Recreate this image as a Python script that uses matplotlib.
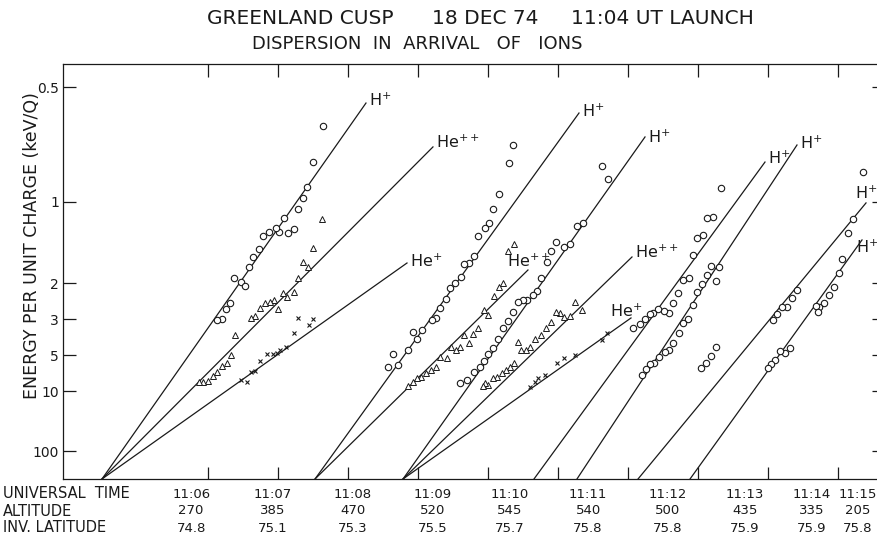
import matplotlib.pyplot as plt
import numpy as np
from matplotlib.transforms import blended_transform_factory

# time in minutes after 11:00 UT, energy per unit charge in keV/Q
# ---- burst A ----
a_h_t = [7.643, 7.50, 7.414, 7.357, 7.286, 7.086, 7.229, 7.143, 7.014, 6.971, 6.871,
         6.786, 6.729, 6.643, 6.586, 6.371, 6.471, 6.529, 6.314, 6.257, 6.20, 6.129]
a_h_e = [0.616, 0.764, 0.900, 0.972, 1.053, 1.126, 1.228, 1.268, 1.258, 1.218, 1.258,
         1.299, 1.450, 1.557, 1.707, 1.899, 1.977, 2.060, 2.477, 2.655, 2.997, 3.035]
a_he2_t = [7.629, 7.50, 7.357, 7.429, 7.286, 7.229, 7.129, 7.071, 7.0, 6.943, 6.886, 6.814,
           6.743, 6.671, 6.614, 6.386, 6.329, 6.271, 6.20, 6.129, 6.071, 6.0, 5.929, 5.871]
a_he2_e = [1.135, 1.438, 1.629, 1.707, 1.899, 2.194, 2.316, 2.218, 2.655, 2.395, 2.449, 2.477,
           2.624, 2.888, 2.960, 3.700, 4.990, 5.702, 6.009, 6.702, 7.232, 7.989, 8.155, 8.155]
a_he1_t = [7.286, 7.50, 7.443, 7.229, 7.114, 7.029, 6.986, 6.929, 6.843, 6.743, 6.671,
           6.614, 6.471, 6.557]
a_he1_e = [2.960, 2.997, 3.235, 3.600, 4.404, 4.611, 4.833, 4.911, 4.911, 5.511, 6.578,
           6.702, 7.829, 8.155]

# ---- burst B ----
b_h_t = [10.357, 10.30, 10.157, 10.071, 10.014, 9.957, 9.857, 9.80, 9.729, 9.657, 9.614, 9.529,
         9.457, 9.40, 9.314, 9.257, 9.20, 9.057, 8.929, 8.986, 8.857, 8.643, 8.714, 8.571]
b_h_e = [0.688, 0.768, 0.945, 1.053, 1.171, 1.218, 1.299, 1.543, 1.645, 1.660, 1.880, 1.997,
         2.103, 2.368, 2.624, 2.960, 3.035, 3.456, 3.551, 3.915, 4.611, 4.911, 5.904, 6.117]
b_he2_t = [10.371, 10.286, 10.214, 10.157, 10.086, 10.0, 9.943, 9.857, 9.786, 9.729, 9.657, 9.60,
           9.543, 9.471, 9.414, 9.314, 9.257, 9.186, 9.114, 9.043, 8.986, 8.929, 8.857]
b_he2_e = [1.389, 1.476, 1.997, 2.081, 2.291, 2.853, 2.686, 3.365, 3.649, 4.148, 3.700, 4.404,
           4.611, 4.404, 5.241, 5.155, 6.117, 6.458, 6.829, 7.375, 7.522, 8.155, 8.871]

# ---- burst C ----
c_h_t = [11.629, 11.714, 11.357, 11.271, 11.171, 11.086, 10.971, 10.90, 10.843, 10.757, 10.70,
         10.643, 10.557, 10.50, 10.429, 10.357, 10.286, 10.214, 10.143, 10.071, 10.0, 9.943,
         9.886, 9.80, 9.70, 9.60]
c_h_e = [0.783, 0.853, 1.171, 1.199, 1.389, 1.426, 1.366, 1.476, 1.629, 1.899, 2.171,
         2.266, 2.395, 2.395, 2.449, 2.751, 3.074, 3.365, 3.915, 4.471, 4.911, 5.511,
         6.117, 6.702, 7.829, 8.326]
c_he2_t = [11.343, 11.243, 11.171, 11.086, 11.029, 10.971, 10.90, 10.829, 10.757, 10.671, 10.60,
           10.543, 10.429, 10.471, 10.371, 10.314, 10.257, 10.20, 10.129, 10.071, 10.0, 9.957, 9.929]
c_he2_e = [2.686, 2.449, 2.888, 2.924, 2.784, 2.751, 3.113, 3.365, 3.700, 3.915, 4.404,
           4.611, 4.088, 4.611, 5.702, 6.117, 6.458, 6.829, 7.375, 7.522, 8.684, 8.326, 8.871]
c_he1_t = [11.70, 11.629, 11.243, 11.086, 10.986, 10.814, 10.714, 10.671, 10.60]
c_he1_e = [3.600, 3.971, 4.990, 5.241, 5.702, 7.094, 7.522, 8.155, 9.065]

# ---- bursts D - G (protons only) ----
d_h_t = [13.329, 13.214, 13.129, 13.071, 12.986, 12.929, 12.871, 12.786, 12.714, 12.643, 12.586,
         12.514, 12.429, 12.357, 12.314, 12.243, 12.171, 12.071, 13.257, 13.186, 13.114, 13.043]
d_h_e = [0.906, 1.118, 1.126, 1.289, 1.321, 1.529, 1.899, 1.938, 2.218, 2.477, 2.784,
         2.719, 2.655, 2.784, 2.818, 2.997, 3.194, 3.365, 4.404, 5.072, 5.702, 6.228]
e_h_t = [13.30, 13.257, 13.186, 13.129, 13.057, 12.986, 12.929, 12.857, 12.786, 12.729, 12.643,
         12.586, 12.529, 12.443, 12.371, 12.314, 12.257, 12.20]
e_h_e = [1.707, 1.957, 1.691, 1.844, 2.018, 2.194, 2.534, 2.997, 3.153, 3.600, 4.148,
         4.611, 4.757, 5.155, 5.702, 5.802, 6.341, 7.094]
f_h_t = [15.357, 15.214, 15.143, 14.414, 14.343, 14.271, 14.20, 14.129, 14.071]
f_h_e = [0.814, 1.135, 1.268, 2.148, 2.342, 2.594, 2.594, 2.818, 3.035]
g_h_t = [15.057, 15.014, 14.943, 14.871, 14.80, 14.729, 14.686, 14.714, 14.314, 14.243, 14.171,
         14.10, 14.043, 14.0]
g_h_e = [1.585, 1.808, 2.081, 2.266, 2.477, 2.594, 2.564, 2.751, 4.471, 4.833, 4.683,
         5.418, 5.802, 6.228]

# dispersion lines: start at infinite energy (t0), end at (t1, e1)
line_t0 = [4.486, 4.486, 4.486, 7.529, 7.529, 8.786, 8.786, 8.786, 10.657, 11.271, 12.143, 12.886]
line_t1 = [8.257, 9.214, 8.843, 11.30, 10.571, 12.243, 12.057, 12.043, 13.957, 14.414, 15.40, 15.343]
line_e1 = [0.543, 0.696, 1.645, 0.573, 1.757, 0.656, 1.557, 2.960, 0.764, 0.688, 1.007, 1.343]
line_ion = ['H+', 'He++', 'He+', 'H+', 'He++', 'H+', 'He++', 'He+', 'H+', 'H+', 'H+', 'H+']
label_off = [(2, 2), (2, 3), (2, 1), (2, 1), (-15, 6), (2, 0), (2, 3), (-15, 5),
             (2, 3), (2, 1), (-8, 7), (-4, -5)]

energy_ticks = [0.5, 1, 2, 3, 5, 10, 100]
minute_ticks = [6, 7, 8, 9, 10, 11, 12, 13, 14, 15]

ut_labels = ['11:06', '11:07', '11:08', '11:09', '11:10', '11:11', '11:12', '11:13', '11:14', '11:15']
altitudes = ['270', '385', '470', '520', '545', '540', '500', '435', '335', '205']
inv_lat = ['74.8', '75.1', '75.3', '75.5', '75.7', '75.8', '75.8', '75.9', '75.9', '75.8']
table_x = [5.76, 6.93, 8.07, 9.21, 10.31, 11.43, 12.57, 13.67, 14.63, 15.28]


def u(e):
    # vertical coordinate: E^-1/2 (inverse velocity)
    return 1.0 / np.sqrt(np.asarray(e, dtype=float))


plt.rcParams['font.family'] = ['DejaVu Sans']
ink = '#1a1a1a'

fig = plt.figure(figsize=(8.78, 5.43), dpi=100)
ax = fig.add_axes([63 / 878, 1 - 479 / 543, (884 - 63) / 878, (479 - 64) / 543])

# lines
for t0, t1, e1, ion, off in zip(line_t0, line_t1, line_e1, line_ion, label_off):
    ax.plot([t0, t1], [0, u(e1)], color=ink, lw=0.9)
    lab = r'H$^{+}$' if ion == 'H+' else (r'He$^{++}$' if ion == 'He++' else r'He$^{+}$')
    ax.annotate(lab, (t1, u(e1)), xytext=off, textcoords='offset points',
                ha='left', va='center', fontsize=11.5, color=ink, annotation_clip=False)

# data points
circ = dict(ls='none', marker='o', ms=4.6, mfc='white', mec=ink, mew=0.8)
tri = dict(ls='none', marker='^', ms=4.0, mfc='white', mec=ink, mew=0.7)
crs = dict(ls='none', marker='x', ms=3.5, mec=ink, mew=0.8)
for t, e in [(a_h_t, a_h_e), (b_h_t, b_h_e), (c_h_t, c_h_e), (d_h_t, d_h_e),
             (e_h_t, e_h_e), (f_h_t, f_h_e), (g_h_t, g_h_e)]:
    ax.plot(t, u(e), **circ)
for t, e in [(a_he2_t, a_he2_e), (b_he2_t, b_he2_e), (c_he2_t, c_he2_e)]:
    ax.plot(t, u(e), **tri)
for t, e in [(a_he1_t, a_he1_e), (c_he1_t, c_he1_e)]:
    ax.plot(t, u(e), **crs)

ax.set_xlim(3.929, 15.657)
ax.set_ylim(0, 1.498)
ax.set_xticks(minute_ticks)
ax.set_xticklabels([])
ax.set_yticks(u(energy_ticks))
ax.set_yticklabels([str(v) for v in energy_ticks], fontsize=10, color=ink)
ax.tick_params(axis='both', direction='in', length=9, width=0.9, color=ink,
               top=True, right=True)
ax.tick_params(axis='y', pad=3)
for s in ax.spines.values():
    s.set_color(ink)
    s.set_linewidth(0.9)

ax.set_ylabel('ENERGY PER UNIT CHARGE (keV/Q)', fontsize=12.5, color=ink)
ax.yaxis.set_label_coords(-0.027, 0.562)

# titles
fig.text(207 / 878, 1 - 18 / 543, 'GREENLAND CUSP', fontsize=14.5, va='center', color=ink)
fig.text(432 / 878, 1 - 18 / 543, '18 DEC 74', fontsize=14.5, va='center', color=ink)
fig.text(571 / 878, 1 - 18 / 543, '11:04 UT LAUNCH', fontsize=14.5, va='center', color=ink)
fig.text(252 / 878, 1 - 44 / 543, 'DISPERSION  IN  ARRIVAL   OF   IONS', fontsize=13,
         va='center', color=ink)

# table below axis
trans = blended_transform_factory(ax.transData, fig.transFigure)
rows = [('UNIVERSAL  TIME', ut_labels, 494), ('ALTITUDE', altitudes, 511),
        ('INV. LATITUDE', inv_lat, 528)]
for head, vals, py in rows:
    fig.text(3 / 878, 1 - py / 543, head, fontsize=10.5, va='center', color=ink)
    for x, v in zip(table_x, vals):
        ax.text(x, 1 - py / 543, v, transform=trans, fontsize=9.5, ha='center',
                va='center', color=ink, clip_on=False)

fig.savefig('out.png', dpi=100)
